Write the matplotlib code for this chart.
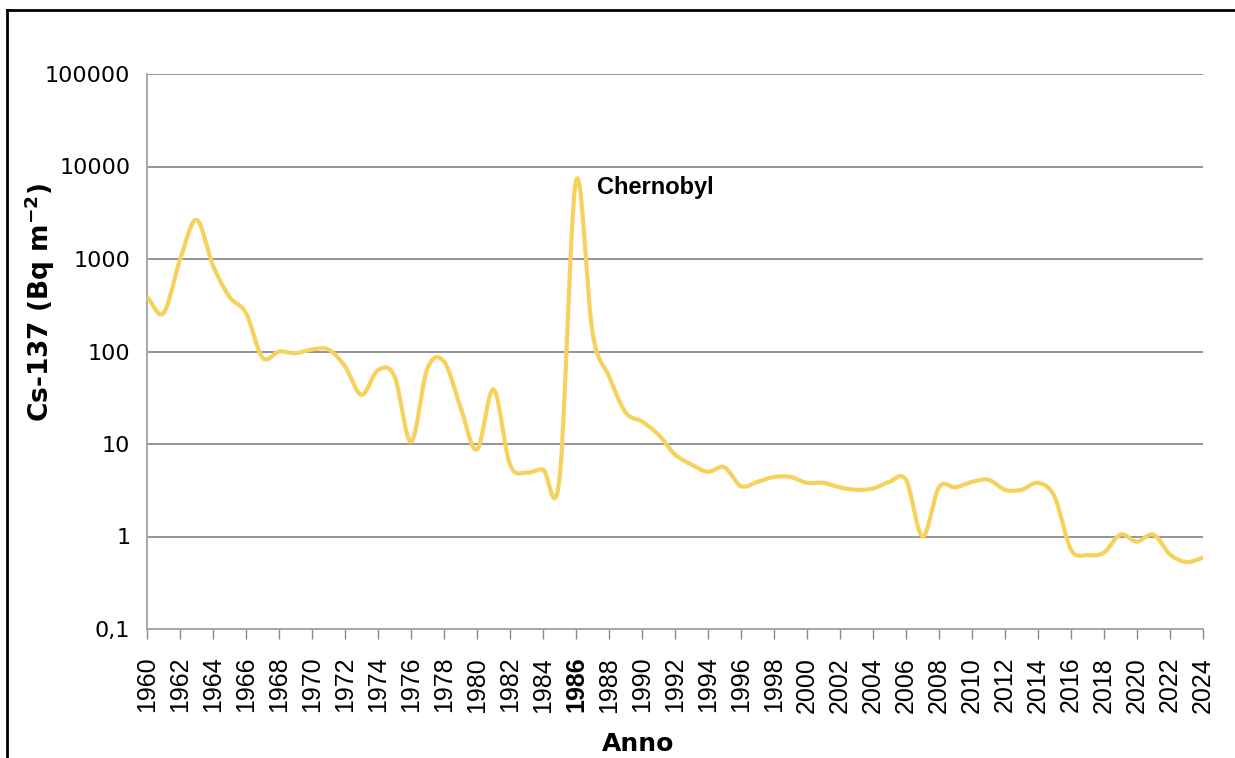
import matplotlib

matplotlib.use("Agg")
import matplotlib.pyplot as plt
import numpy as np
from matplotlib.lines import Line2D
from matplotlib.ticker import FixedLocator, FixedFormatter, NullLocator

# yearly Cs-137 deposition (Bq m-2)
years = np.arange(1960, 2025)
cs137 = [
    390, 260, 980, 2650, 850, 390, 260, 86, 100, 96,
    105, 105, 69, 34, 63, 54, 10.6, 66, 78, 25,
    8.7, 39, 6.0, 4.9, 5.3, 4.2, 7000, 160, 54, 22,
    17.5, 12.6, 7.7, 6.0, 5.0, 5.6, 3.5, 3.9, 4.4, 4.4,
    3.8, 3.8, 3.4, 3.2, 3.3, 3.9, 4.1, 1.0, 3.4, 3.4,
    3.9, 4.1, 3.2, 3.2, 3.8, 2.7, 0.72, 0.63, 0.67, 1.05,
    0.88, 1.05, 0.64, 0.53, 0.59,
]
y_ticks = [0.1, 1, 10, 100, 1000, 10000, 100000]
y_labels = ["0,1", "1", "10", "100", "1000", "10000", "100000"]
x_ticks = list(range(1960, 2025, 2))

LINE = "#F6D15C"
GRID = "#8c8c8c"


def smooth(x, y, n=20):
    """Catmull-Rom through the points (like a spreadsheet 'smoothed line')."""
    x = np.asarray(x, float)
    y = np.asarray(y, float)
    px = np.concatenate([[2 * x[0] - x[1]], x, [2 * x[-1] - x[-2]]])
    py = np.concatenate([[2 * y[0] - y[1]], y, [2 * y[-1] - y[-2]]])
    t = np.linspace(0, 1, n, endpoint=False)
    xs, ys = [], []
    for i in range(1, len(px) - 2):
        for p, out in ((px, xs), (py, ys)):
            p0, p1, p2, p3 = p[i - 1], p[i], p[i + 1], p[i + 2]
            out.extend(0.5 * (2 * p1 + (-p0 + p2) * t
                              + (2 * p0 - 5 * p1 + 4 * p2 - p3) * t ** 2
                              + (-p0 + 3 * p1 - 3 * p2 + p3) * t ** 3))
    xs.append(x[-1])
    ys.append(y[-1])
    return np.array(xs), np.array(ys)


fig = plt.figure(figsize=(12.35, 7.58), dpi=100)
ax = fig.add_axes([147 / 1235, 1 - 629 / 758, (1203 - 147) / 1235, (629 - 74) / 758])

sx, sy = smooth(years, np.log10(cs137))
ax.plot(sx, 10 ** sy, color=LINE, lw=3.0, solid_capstyle="round", zorder=3)

ax.set_yscale("log")
ax.set_ylim(0.1, 100000)
ax.set_xlim(1960, 2024)
ax.yaxis.set_major_locator(FixedLocator(y_ticks))
ax.yaxis.set_major_formatter(FixedFormatter(y_labels))
ax.yaxis.set_minor_locator(NullLocator())
ax.set_xticks(x_ticks)
ax.set_xticklabels([str(v) for v in x_ticks])

ax.tick_params(axis="y", length=0, pad=12, labelsize=16)
ax.tick_params(axis="x", length=7, width=1, color=GRID, direction="out", pad=13,
               labelsize=18, labelrotation=90, labelfontfamily="Liberation Sans")
for lab in ax.get_xticklabels():
    if lab.get_text() == "1986":
        lab.set_fontweight("bold")

for v in y_ticks[1:]:
    ax.axhline(v, color=GRID, lw=1.3, zorder=1)

for side in ("top", "right"):
    ax.spines[side].set_visible(False)
for side in ("left", "bottom"):
    ax.spines[side].set_color("#a0a0a0")
    ax.spines[side].set_linewidth(1.3)

ax.set_ylabel("Cs-137 (Bq m$^{\\mathbf{-2}}$)", fontsize=19, fontweight="bold")
ax.set_xlabel("Anno", fontsize=18, fontweight="bold")
ax.yaxis.set_label_coords(-0.085, 0.589)
ax.xaxis.set_label_coords(0.465, -0.186)

ax.text(1987.3, 6000, "Chernobyl", fontsize=17, fontweight="bold",
        family="Liberation Sans", va="center", ha="left")

# frame around the picture (top and left edges only are visible)
fig.add_artist(Line2D([7 / 1235, 1], [1 - 10 / 758, 1 - 10 / 758],
                      transform=fig.transFigure, color="black", lw=2))
fig.add_artist(Line2D([7 / 1235, 7 / 1235], [0, 1 - 10 / 758],
                      transform=fig.transFigure, color="black", lw=2))

fig.savefig("out.png", dpi=100)
